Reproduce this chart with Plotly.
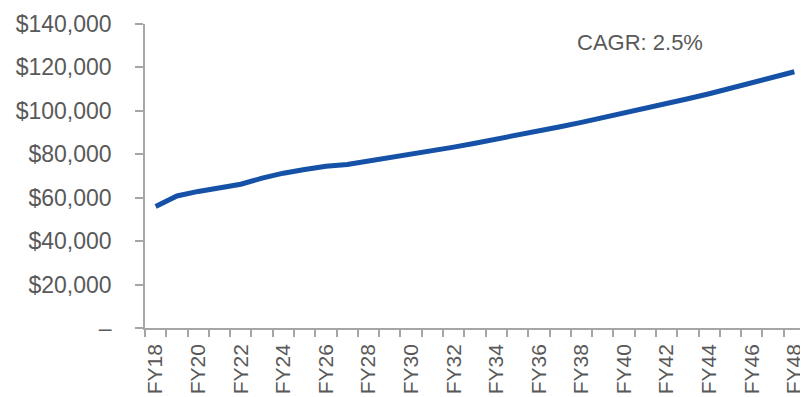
import plotly.graph_objects as go

years = ["FY18", "FY19", "FY20", "FY21", "FY22", "FY23", "FY24", "FY25", "FY26", "FY27",
         "FY28", "FY29", "FY30", "FY31", "FY32", "FY33", "FY34", "FY35", "FY36", "FY37",
         "FY38", "FY39", "FY40", "FY41", "FY42", "FY43", "FY44", "FY45", "FY46", "FY47", "FY48"]
values = [56000, 60800, 62900, 64600, 66200, 69000, 71300, 73000, 74500, 75300,
          76800, 78300, 79900, 81600, 83300, 85100, 86900, 88800, 90700, 92700,
          94700, 96800, 98900, 101100, 103300, 105600, 107900, 110300, 112800, 115300, 118000]
y_ticks = [0, 20000, 40000, 60000, 80000, 100000, 120000, 140000]
y_labels = ["–", "$20,000", "$40,000", "$60,000", "$80,000", "$100,000", "$120,000", "$140,000"]
cagr_text = "CAGR: 2.5%"

idx = list(range(len(years)))
grey = "#595959"
axis_grey = "#a6a6a6"

fig = go.Figure()
fig.add_trace(go.Scatter(x=idx, y=values, mode="lines",
                         line=dict(color="#1551a6", width=5), showlegend=False))

fig.update_xaxes(range=[-0.5, len(years) - 0.5], tickmode="array",
                 tickvals=idx[::2], ticktext=years[::2], tickangle=-90,
                 ticks="", showgrid=False, zeroline=False,
                 showline=True, linecolor=axis_grey, linewidth=1.5,
                 minor=dict(tickmode="linear", tick0=-0.5, dtick=1, ticks="outside",
                            ticklen=7, tickcolor=axis_grey, tickwidth=1.5, showgrid=False),
                 ticklabelstandoff=6, tickfont=dict(size=21, color=grey))
fig.update_yaxes(range=[0, 140000], tickmode="array", tickvals=y_ticks, ticktext=y_labels,
                 ticks="outside", ticklen=8, tickcolor=axis_grey, tickwidth=1.5,
                 showgrid=False, zeroline=False, showline=True, linecolor=axis_grey, linewidth=1.5,
                 ticklabelstandoff=19, tickfont=dict(size=23, color=grey))

fig.add_annotation(text=cagr_text, xref="paper", yref="paper", x=0.75, y=0.94,
                   xanchor="center", yanchor="middle", showarrow=False,
                   font=dict(size=22, color=grey))

fig.update_layout(width=800, height=389, margin=dict(l=137, r=3, t=14, b=69),
                  plot_bgcolor="white", paper_bgcolor="white",
                  font=dict(family="Liberation Sans, Arial, sans-serif", color=grey))

fig.write_html("out.html")
